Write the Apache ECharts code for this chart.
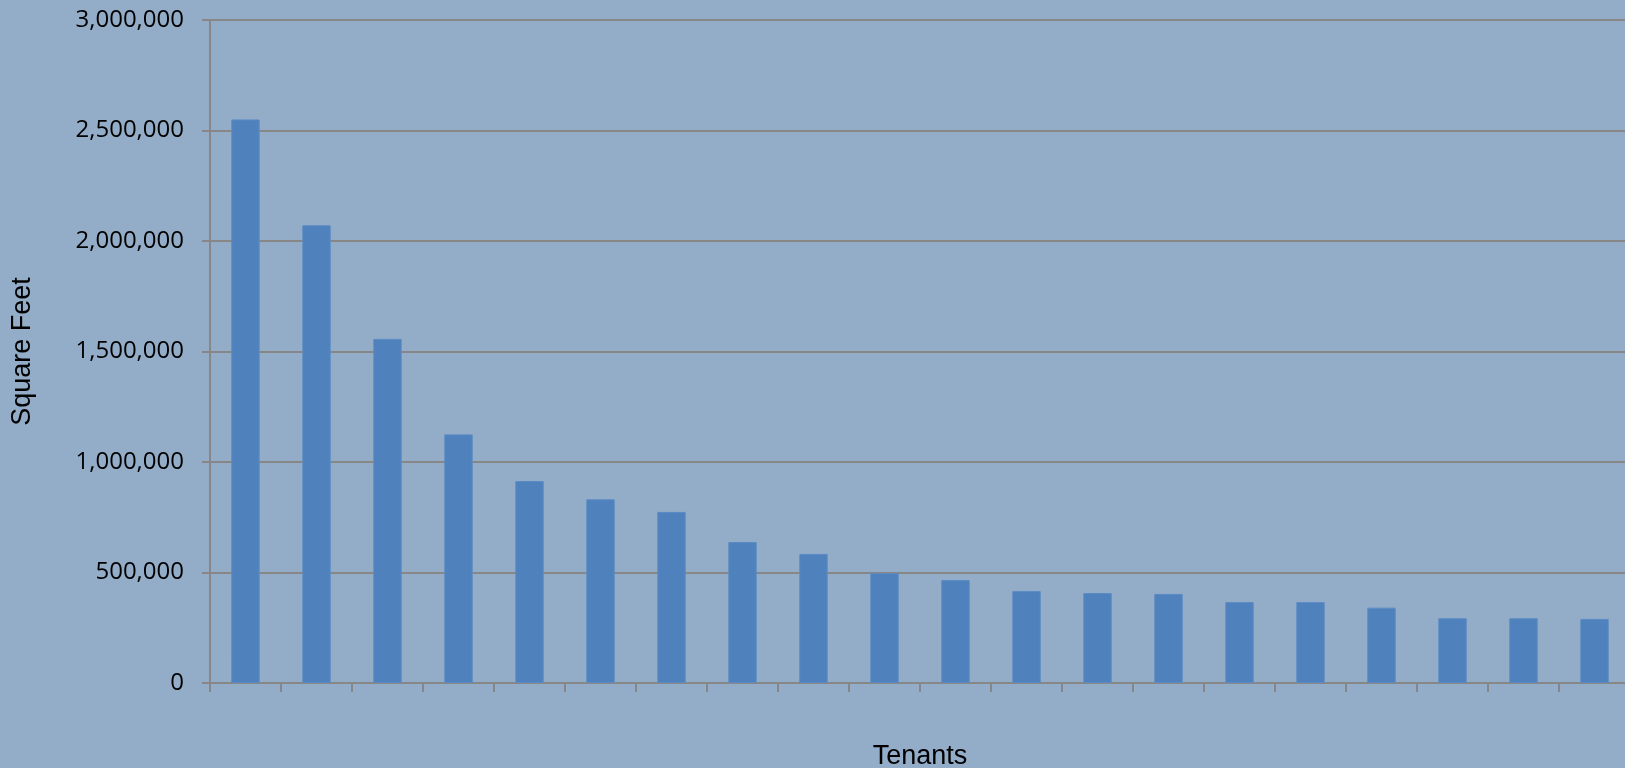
<!DOCTYPE html>
<html>
<head>
<meta charset="utf-8">
<script src="https://cdn.jsdelivr.net/npm/echarts@6/dist/echarts.min.js"></script>
<style>
  html, body { margin: 0; padding: 0; background: #93acc8; }
  #chart { width: 1625px; height: 768px; }
</style>
</head>
<body>
<div id="chart"></div>
<script>
// tenants ranked by leased area (no labels in the original)
var tenants = ['1','2','3','4','5','6','7','8','9','10','11','12','13','14','15','16','17','18','19','20'];
var squareFeet = [2550000, 2071000, 1557000, 1125000, 914000, 831000, 774000, 638000, 584000, 497000,
                  466000, 416000, 407000, 403000, 366000, 366000, 341000, 293000, 293000, 290000];
var yTicks = [0, 500000, 1000000, 1500000, 2000000, 2500000, 3000000];

var axisGray = '#878787';

var chart = echarts.init(document.getElementById('chart'));
chart.setOption({
    backgroundColor: '#93acc8',
    animation: false,
    grid: {
        left: 210,
        top: 20,
        right: -5,
        bottom: 85,
        containLabel: false,
        outerBoundsMode: 'none'
    },
    xAxis: [{
        type: 'category',
        data: tenants,
        boundaryGap: true,
        name: 'Tenants',
        nameLocation: 'middle',
        nameGap: 60,
        nameTextStyle: {
            fontFamily: 'Liberation Sans',
            fontSize: 27,
            color: '#000'
        },
        axisLine: { show: true, lineStyle: { color: axisGray, width: 2 } },
        axisTick: { show: true, length: 9, alignWithLabel: false, lineStyle: { color: axisGray, width: 2 } },
        axisLabel: { show: false },
        splitLine: { show: false }
    }],
    yAxis: [{
        type: 'value',
        min: yTicks[0],
        max: yTicks[yTicks.length - 1],
        interval: yTicks[1] - yTicks[0],
        name: 'Square Feet',
        nameLocation: 'middle',
        nameGap: 174,
        nameTextStyle: {
            fontFamily: 'Liberation Sans',
            fontSize: 27,
            color: '#000'
        },
        axisLine: { show: true, lineStyle: { color: axisGray, width: 2 } },
        axisTick: { show: true, length: 8, lineStyle: { color: axisGray, width: 2 } },
        axisLabel: {
            margin: 26,
            fontFamily: 'Open Sans',
            fontSize: 24,
            color: '#000',
            formatter: function (v) {
                return v.toLocaleString('en-US');
            }
        },
        splitLine: { show: true, lineStyle: { color: axisGray, width: 2 } }
    }],
    series: [{
        name: 'Square Feet',
        type: 'bar',
        data: squareFeet,
        barWidth: '40%',
        itemStyle: {
            color: '#4f81bd',
            borderColor: '#5b8bc4',
            borderWidth: 1
        }
    }]
});
</script>
</body>
</html>
